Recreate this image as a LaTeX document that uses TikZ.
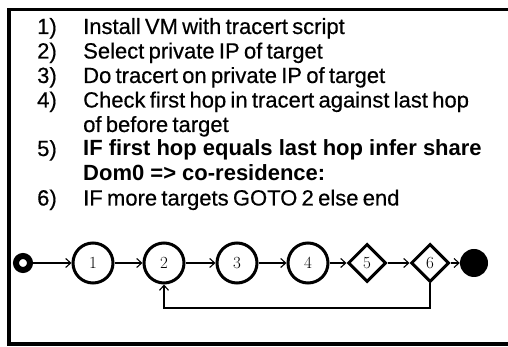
\documentclass[tikz,border=0pt]{standalone}
\usepackage{fontspec}
\usetikzlibrary{arrows.meta,shapes.geometric}
\newfontfamily\listfont[WordSpace=0.7,FakeBold=0.5,BoldFeatures={WordSpace=1,FakeBold=0}]{Liberation Sans}
\tikzset{
  frameline/.style={line width=3.5pt},
  listitem/.style={anchor=base west,inner sep=0pt,font=\listfont\fontsize{22}{24}\selectfont},
  stepcircle/.style={circle,draw,line width=3pt,minimum size=40pt,inner sep=0pt,font=\fontsize{17}{19}\selectfont},
  stepdiamond/.style={diamond,draw,line width=3pt,minimum width=38pt,minimum height=38pt,inner sep=0pt,font=\fontsize{17}{19}\selectfont},
  flow/.style={line width=1.1pt,-{Straight Barb[length=5pt,width=9pt,line width=1.1pt]}},
}
\begin{document}
\begin{tikzpicture}[x=1pt,y=1pt]
\useasboundingbox (0,0) rectangle (508,347);
% open frame: top, left and bottom edges
\draw[frameline] (508,337.5) -- (9,337.5) -- (9,3) -- (508,3);
% numbered procedure
\foreach \n/\y in {1)/313, 2)/288.5, 3)/264, 4)/239.5, 5)/191, 6)/141.5}
  \node[listitem] at (37,\y) {\n};
\node[listitem] (t1)  at (83,313)   {Install VM with tracert script};
\node[listitem] (t2)  at (83,288.5) {Select private IP of target};
\node[listitem] (t3)  at (83,264)   {Do tracert on private IP of target};
\node[listitem] (t4)  at (83,239.5) {Check first hop in tracert against last hop};
\node[listitem] (t4b) at (83,215)   {of before target};
\node[listitem] (t5)  at (83,191)   {\bfseries IF first hop equals last hop infer share};
\node[listitem] (t5b) at (83,166.5) {\bfseries Dom0 => co-residence:};
\node[listitem] (t6)  at (83,141.5) {IF more targets GOTO 2 else end};
% activity flow
\node[circle,draw,line width=6pt,minimum size=14pt,inner sep=0pt] (s) at (23,84) {};
\node[stepcircle] (n1) at (93,84) {1};
\node[stepcircle] (n2) at (164,84) {2};
\node[stepcircle] (n3) at (237,84) {3};
\node[stepcircle] (n4) at (308,84) {4};
\node[stepdiamond] (n5) at (367,84) {5};
\node[stepdiamond] (n6) at (430,84) {6};
\node[circle,fill,minimum size=28pt,inner sep=0pt] (e) at (474,84) {};
\coordinate (loopR) at (430,39);
\coordinate (loopL) at (164,39);
\draw[flow] (s) -- (n1);
\draw[flow] (n1) -- (n2);
\draw[flow] (n2) -- (n3);
\draw[flow] (n3) -- (n4);
\draw[flow] (n4) -- (n5);
\draw[flow] (n5) -- (n6);
\draw[flow] (n6) -- (e);
\draw[flow] (n6.south) -- (loopR) -- (loopL) -- (n2.south);
\end{tikzpicture}
\end{document}
